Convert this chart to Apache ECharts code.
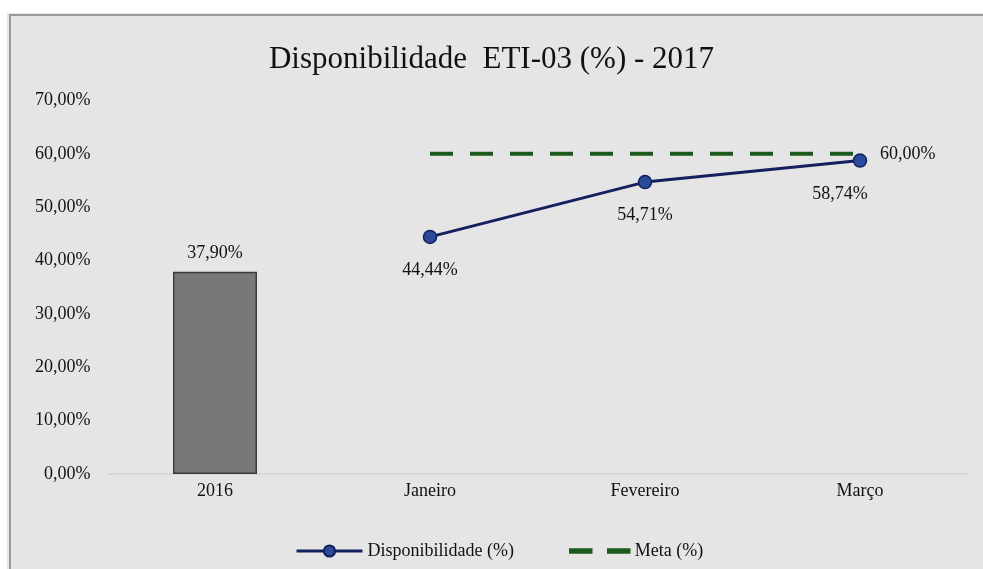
<!DOCTYPE html>
<html>
<head>
<meta charset="utf-8">
<script src="https://cdn.jsdelivr.net/npm/echarts@6/dist/echarts.min.js"></script>
<style>
html,body{margin:0;padding:0;background:#fff;}
#c{width:983px;height:569px;}
</style>
</head>
<body>
<div id="c"></div>
<script>
var categories = ['2016', 'Janeiro', 'Fevereiro', 'Março'];
var barValues = [37.90, null, null, null];
var dispValues = [null, 44.44, 54.71, 58.74];
var metaValues = [null, 60, 60, 60];
var yTicks = [0, 10, 20, 30, 40, 50, 60, 70];
var titleText = 'Disponibilidade  ETI-03 (%) - 2017';
var dispName = 'Disponibilidade (%)';
var metaName = 'Meta (%)';

function fmt(v) { return v.toFixed(2).replace('.', ',') + '%'; }

var serif = '"Liberation Serif", "DejaVu Serif", serif';
var fs = 18;
var chart = echarts.init(document.getElementById('c'));
chart.setOption({
  backgroundColor: '#e5e5e5',
  animation: false,
  title: {
    text: titleText, left: 'center', top: 39,
    textStyle: { fontFamily: serif, fontSize: 31, fontWeight: 'normal', color: '#111' }
  },
  graphic: [
    { type: 'rect', shape: { x: 0, y: 0, width: 983, height: 13 }, style: { fill: '#fff' }, z: 100 },
    { type: 'rect', shape: { x: 0, y: 0, width: 7, height: 569 }, style: { fill: '#fff' }, z: 100 },
    { type: 'polyline', shape: { points: [[10, 569], [10, 15], [983, 15]] }, style: { stroke: '#9a9a9a', lineWidth: 2, fill: null }, z: 100 }
  ],
  legend: [
    {
      data: [dispName],
      left: 290, top: 537,
      itemWidth: 66, itemHeight: 14,
      lineStyle: { width: 3 },
      textStyle: { fontFamily: serif, fontSize: fs, color: '#111' }
    },
    {
      data: [{ name: metaName, icon: 'path://M0,0h22v4h-22zM38,0h22v4h-22z' }],
      left: 564, top: 537,
      itemWidth: 60, itemHeight: 5,
      itemStyle: { color: '#1c5a1c', borderColor: '#1c5a1c', borderWidth: 1.5, opacity: 1 },
      lineStyle: { width: 0 },
      textStyle: { fontFamily: serif, fontSize: fs, color: '#111' }
    }
  ],
  grid: { left: 107.5, right: 15.5, top: 100.5, bottom: 95 },
  xAxis: {
    type: 'category', data: categories, boundaryGap: true,
    axisLine: { lineStyle: { color: '#d2d2d2', width: 1.5 } },
    axisTick: { show: false },
    axisLabel: { fontFamily: serif, fontSize: fs, color: '#111', margin: 8 }
  },
  yAxis: {
    type: 'value', min: yTicks[0], max: yTicks[yTicks.length - 1], interval: 10,
    splitLine: { show: false }, axisLine: { show: false }, axisTick: { show: false },
    axisLabel: { fontFamily: serif, fontSize: fs, color: '#111', margin: 17, formatter: function (v) { return fmt(v); } }
  },
  series: [
    {
      type: 'bar', name: '2016', data: barValues, barWidth: 84,
      itemStyle: { color: '#787878', borderColor: '#3a3a3a', borderWidth: 1.5 },
      label: { show: true, position: 'top', distance: 10, fontFamily: serif, fontSize: fs, color: '#111',
        formatter: function (p) { return fmt(p.value); } }
    },
    {
      type: 'line', name: dispName, data: dispValues,
      lineStyle: { color: '#14205e', width: 3 },
      symbol: 'circle', symbolSize: 13,
      itemStyle: { color: '#2a4a9c', borderColor: '#14205e', borderWidth: 1.5 },
      label: { show: true, position: 'bottom', distance: 17, fontFamily: serif, fontSize: fs, color: '#111',
        formatter: function (p) { return fmt(p.value); } },
      labelLayout: function (p) {
        return p.dataIndex === 3 ? { dx: -20 } : {};
      },
      z: 3
    },
    {
      type: 'line', name: metaName, data: metaValues,
      lineStyle: { color: '#1c5a1c', width: 4, type: [23, 17] },
      itemStyle: { color: '#1c5a1c' },
      symbol: 'none', showSymbol: false,
      label: { show: false },
      endLabel: { show: true, distance: 20, fontFamily: serif, fontSize: fs, color: '#111',
        formatter: function (p) { return fmt(p.value); } },
      z: 2
    }
  ]
});
</script>
</body>
</html>
